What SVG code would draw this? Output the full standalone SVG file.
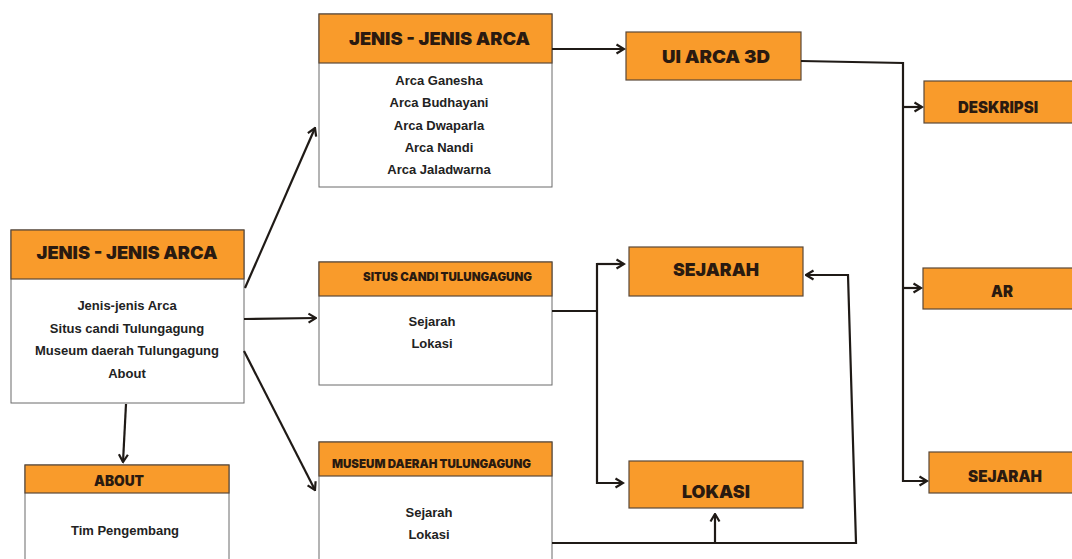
<svg xmlns="http://www.w3.org/2000/svg" width="1072" height="559" viewBox="0 0 1072 559">
<defs>
<style>
.hdr{fill:#F99B2B;stroke:#5a4838;stroke-width:1.2}
.body{fill:#fff;stroke:#6b6b6b;stroke-width:1}
.ht{font-family:"Inter","Lato","Open Sans",sans-serif;font-weight:900;fill:#2a1a10;text-anchor:middle}
.bt{font-family:"Liberation Sans",Arial,sans-serif;font-weight:bold;font-size:13px;fill:#222;text-anchor:middle}
.c{fill:none;stroke:#1f1a16;stroke-width:2.2;stroke-linejoin:miter}
</style>
<marker id="ah" viewBox="0 0 12 12" refX="10.5" refY="6" markerWidth="12" markerHeight="12" markerUnits="userSpaceOnUse" orient="auto">
<path d="M3,1.5 L10.5,6 L3,10.5" fill="none" stroke="#1f1a16" stroke-width="2.2"/>
</marker>
</defs>
<rect width="1072" height="559" fill="#fff"/>

<g id="main">
<rect class="body" x="11" y="230" width="233" height="173"/>
<rect class="hdr" x="11" y="230" width="233" height="49"/>
<text class="ht" x="127" y="259" font-size="18" textLength="181" lengthAdjust="spacingAndGlyphs">JENIS - JENIS ARCA</text>
<text class="bt" x="127" y="310">Jenis-jenis Arca</text>
<text class="bt" x="127" y="333">Situs candi Tulungagung</text>
<text class="bt" x="127" y="355">Museum daerah Tulungagung</text>
<text class="bt" x="127" y="378">About</text>
</g>

<g id="about">
<rect class="body" x="25" y="465" width="204" height="110"/>
<rect class="hdr" x="25" y="465" width="204" height="28"/>
<text class="ht" x="119" y="486" font-size="14" textLength="50" lengthAdjust="spacingAndGlyphs">ABOUT</text>
<text class="bt" x="125" y="535">Tim Pengembang</text>
</g>

<g id="jenis">
<rect class="body" x="319" y="14" width="233" height="173"/>
<rect class="hdr" x="319" y="14" width="233" height="49"/>
<text class="ht" x="439.5" y="45" font-size="18" textLength="181" lengthAdjust="spacingAndGlyphs">JENIS - JENIS ARCA</text>
<text class="bt" x="439" y="85">Arca Ganesha</text>
<text class="bt" x="439" y="107">Arca Budhayani</text>
<text class="bt" x="439" y="130">Arca Dwaparla</text>
<text class="bt" x="439" y="152">Arca Nandi</text>
<text class="bt" x="439" y="174">Arca Jaladwarna</text>
</g>

<g id="situs">
<rect class="body" x="319" y="262" width="233" height="123"/>
<rect class="hdr" x="319" y="262" width="233" height="34"/>
<text class="ht" x="447.5" y="281" font-size="12" textLength="169" lengthAdjust="spacingAndGlyphs">SITUS CANDI TULUNGAGUNG</text>
<text class="bt" x="432" y="326">Sejarah</text>
<text class="bt" x="432" y="348">Lokasi</text>
</g>

<g id="museum">
<rect class="body" x="319" y="442" width="233" height="130"/>
<rect class="hdr" x="319" y="442" width="233" height="34"/>
<text class="ht" x="431.5" y="468" font-size="12" textLength="199" lengthAdjust="spacingAndGlyphs">MUSEUM DAERAH TULUNGAGUNG</text>
<text class="bt" x="429" y="517">Sejarah</text>
<text class="bt" x="429" y="539">Lokasi</text>
</g>

<g id="ui3d">
<rect class="hdr" x="626" y="32" width="175" height="48"/>
<text class="ht" x="716" y="63" font-size="18" textLength="108" lengthAdjust="spacingAndGlyphs">UI ARCA 3D</text>
</g>

<g id="sejarah-mid">
<rect class="hdr" x="629" y="247" width="174" height="49"/>
<text class="ht" x="716" y="276" font-size="18" textLength="86" lengthAdjust="spacingAndGlyphs">SEJARAH</text>
</g>

<g id="lokasi">
<rect class="hdr" x="629" y="461" width="174" height="47"/>
<text class="ht" x="716" y="498" font-size="18" textLength="68" lengthAdjust="spacingAndGlyphs">LOKASI</text>
</g>

<g id="deskripsi">
<rect class="hdr" x="924" y="81" width="160" height="42"/>
<text class="ht" x="998" y="113" font-size="16" textLength="80" lengthAdjust="spacingAndGlyphs">DESKRIPSI</text>
</g>

<g id="ar">
<rect class="hdr" x="923" y="268" width="160" height="41"/>
<text class="ht" x="1002" y="297" font-size="16" textLength="22" lengthAdjust="spacingAndGlyphs">AR</text>
</g>

<g id="sejarah-right">
<rect class="hdr" x="929" y="452" width="155" height="41"/>
<text class="ht" x="1005" y="482" font-size="16" textLength="74" lengthAdjust="spacingAndGlyphs">SEJARAH</text>
</g>

<g id="connectors">
<path class="c" d="M245,288 L315,128" marker-end="url(#ah)"/>
<path class="c" d="M244,319 L316,318" marker-end="url(#ah)"/>
<path class="c" d="M244,351 L315,490" marker-end="url(#ah)"/>
<path class="c" d="M126,404 L123,462" marker-end="url(#ah)"/>
<path class="c" d="M552,49 L624,49" marker-end="url(#ah)"/>
<path class="c" d="M552,311 L597,311"/>
<path class="c" d="M623,264 L597,264 L597,483 L623,483" marker-end="url(#ah)"/>
<path class="c" d="M597,264 L624,264" marker-end="url(#ah)"/>
<path class="c" d="M552,543 L856,543 L848,275 L806,275" marker-end="url(#ah)"/>
<path class="c" d="M715,543 L715,514" marker-end="url(#ah)"/>
<path class="c" d="M801,61 L903,63 L903,481 L927,481" marker-end="url(#ah)"/>
<path class="c" d="M903,107 L922,107" marker-end="url(#ah)"/>
<path class="c" d="M903,288 L921,288" marker-end="url(#ah)"/>
</g>
</svg>
